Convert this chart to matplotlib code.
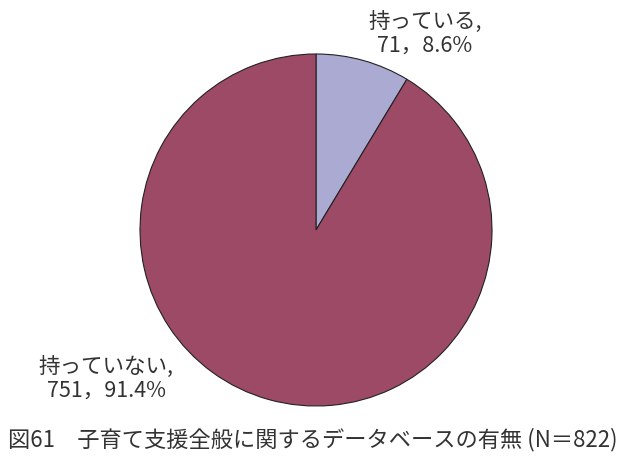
import matplotlib
matplotlib.use("Agg")
import matplotlib.pyplot as plt

categories = ["持っている", "持っていない"]
counts = [71, 751]
percents = [8.6, 91.4]
colors = ["#AAAAD2", "#9C4A66"]
title = "図61　子育て支援全般に関するデータベースの有無 (N＝822)"

plt.rcParams['font.family'] = ['Noto Sans CJK JP', 'DejaVu Sans']

fig = plt.figure(figsize=(6.17, 4.58), dpi=100)
ax = fig.add_axes([140/617, 52/458, 352/617, 352/458])
ax.pie(counts, colors=colors, startangle=90, counterclock=False,
       wedgeprops=dict(edgecolor="#222222", linewidth=0.8))
ax.set_xlim(-1, 1)
ax.set_ylim(-1, 1)
ax.set_aspect("equal")
ax.axis("off")

label_pos = [(0.62, 1.116), (-1.193, -0.847)]
for cat, n, p, (x, y) in zip(categories, counts, percents, label_pos):
    ax.text(x, y, f"{cat},\n{n}，{p}%", ha="center", va="center",
            fontsize=15.5, color="#333333", clip_on=False, linespacing=1.12)

fig.text(8/617, 1 - 440/458, title, ha="left", va="center",
         fontsize=16, color="#333333")

fig.savefig("out.png", dpi=100, facecolor="white")
